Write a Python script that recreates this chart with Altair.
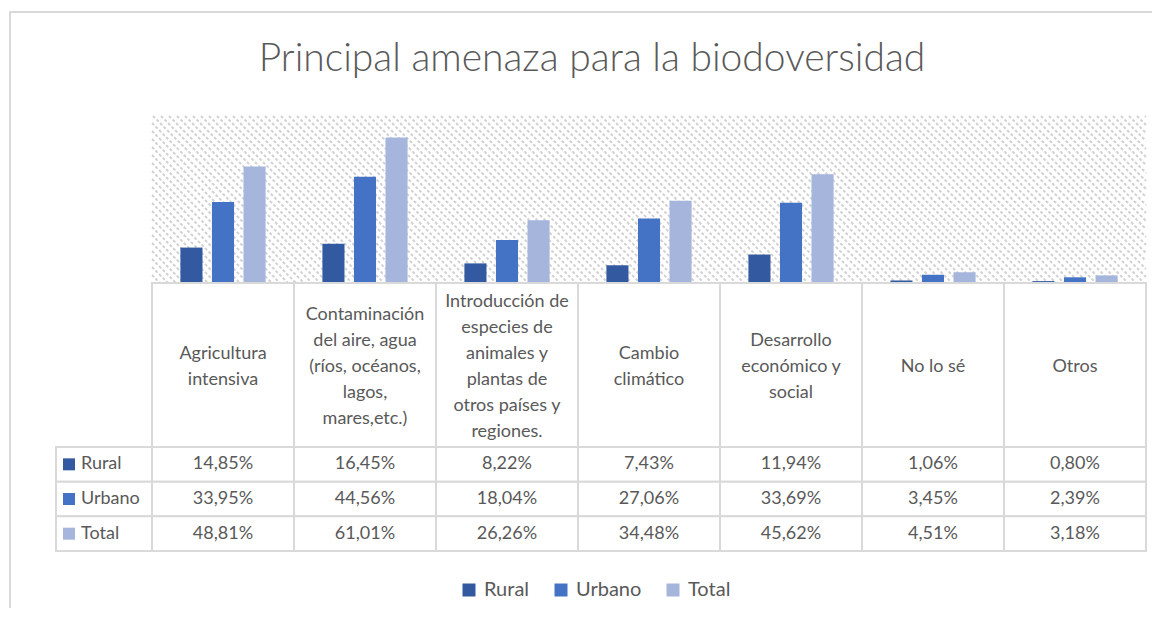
import altair as alt
import pandas as pd
import numpy as np

# ---------------- data ----------------
title_text = "Principal amenaza para la biodoversidad"
categories = [
    "Agricultura intensiva",
    "Contaminación del aire, agua (ríos, océanos, lagos, mares,etc.)",
    "Introducción de especies de animales y plantas de otros países y regiones.",
    "Cambio climático",
    "Desarrollo económico y social",
    "No lo sé",
    "Otros",
]
header_labels = [
    "Agricultura\nintensiva",
    "Contaminación\ndel aire, agua\n(ríos, océanos,\nlagos,\nmares,etc.)",
    "Introducción de\nespecies de\nanimales y\nplantas de\notros países y\nregiones.",
    "Cambio\nclimático",
    "Desarrollo\neconómico y\nsocial",
    "No lo sé",
    "Otros",
]
series = ["Rural", "Urbano", "Total"]
rural = [14.85, 16.45, 8.22, 7.43, 11.94, 1.06, 0.80]
urbano = [33.95, 44.56, 18.04, 27.06, 33.69, 3.45, 2.39]
total = [48.81, 61.01, 26.26, 34.48, 45.62, 4.51, 3.18]
colors = ["#335AA1", "#4472C4", "#A5B5DB"]

rows = []
for s, vals in zip(series, [rural, urbano, total]):
    for c, v in zip(categories, vals):
        rows.append({"cat": c, "serie": s, "value": v})
df = pd.DataFrame(rows)
df_head = pd.DataFrame({"cat": categories, "label": header_labels})
df_series = pd.DataFrame({"serie": series})

# ---------------- layout (chart pixel space) ----------------
W, H = 1144, 600
PX0, PX1 = 144, 1138      # plot area x
PY0, PY1 = 108, 275       # plot area y
TROW0, TROW1 = 439, 543   # data rows of table
LCOL0 = 48                # left column of table
GRID = "#d9d9d9"
TXT = "#595959"
FONT = "Lato"
FS = 18
LH = 26
HEAD_CENTER = 358.5

cat_scale = alt.Scale(domain=categories, range=[PX0, PX1], paddingInner=0, paddingOuter=0)
row_scale = alt.Scale(domain=series, range=[TROW0, TROW1], paddingInner=0, paddingOuter=0)
x_cat = alt.X("cat:N", sort=categories, axis=None, scale=cat_scale)
x_cat_c = alt.X("cat:N", sort=categories, axis=None, bandPosition=0.5, scale=cat_scale)
y_row = alt.Y("serie:N", sort=series, axis=None, scale=row_scale)
y_row_c = alt.Y("serie:N", sort=series, axis=None, bandPosition=0.5, scale=row_scale)

legend = alt.Legend(orient="none", legendX=451, legendY=572, direction="horizontal",
                    title=None, symbolType="square", symbolSize=169, symbolStrokeWidth=0,
                    labelFontSize=20, labelFont=FONT, labelColor=TXT, labelOffset=5,
                    columnPadding=21, symbolOpacity=1)
color = alt.Color("serie:N", sort=series,
                  scale=alt.Scale(domain=series, range=colors), legend=legend)

# background hatch (texture) of plot area
hx, hy, hx2, hy2 = [], [], [], []
for c in np.arange(PX0 - PY1, PX1 - PY0, 8):
    sx, sy = c + PY0, PY0
    if sx < PX0:
        sx, sy = PX0, PX0 - c
    ex, ey = c + PY1, PY1
    if ex > PX1:
        ex, ey = PX1, PX1 - c
    if sx <= PX1 and sy <= PY1:
        hx.append(sx); hy.append(sy); hx2.append(ex); hy2.append(ey)
df_hatch = pd.DataFrame({"x": hx, "y": hy, "x2": hx2, "y2": hy2})
px_x = alt.Scale(domain=[0, W], range=[0, W], nice=False, zero=False)
px_y = alt.Scale(domain=[0, H], range=[0, H], nice=False, zero=False)

hatch = alt.Chart(df_hatch).mark_rule(color="#d2d2d2", strokeWidth=2, strokeDash=[3, 2]).encode(
    x=alt.X("x:Q", scale=px_x, axis=None),
    y=alt.Y("y:Q", scale=px_y, axis=None),
    x2="x2:Q", y2="y2:Q",
)

# bars
bars = alt.Chart(df).mark_bar().encode(
    x=x_cat,
    xOffset=alt.XOffset("serie:N", sort=series,
                        scale=alt.Scale(domain=series, paddingInner=0.3, paddingOuter=0.9)),
    y=alt.Y("value:Q", axis=None, scale=alt.Scale(domain=[0, 70], range=[PY1, PY0], nice=False)),
    color=color,
)

# table: header cells
head_cells = alt.Chart(df_head).mark_rect(fill="white", stroke=GRID, strokeWidth=2).encode(
    x=x_cat, y=alt.value(PY1), y2=alt.value(TROW0),
)
head_text = alt.Chart(df_head).transform_calculate(
    nlines="length(split(datum.label, '\\n'))"
).mark_text(
    font=FONT, fontSize=FS, color=TXT, lineBreak="\n", lineHeight=LH,
    align="center", baseline="middle").encode(
    x=x_cat_c,
    # first line position: block of n lines centred in the header cell
    y=alt.Y("nlines:Q", axis=None,
            scale=alt.Scale(domain=[1, 6], range=[HEAD_CENTER, HEAD_CENTER - 5 * LH / 2],
                            nice=False, zero=False)),
    text="label:N",
)

# table: data cells
data_cells = alt.Chart(df).mark_rect(fill="white", stroke=GRID, strokeWidth=2).encode(
    x=x_cat, y=y_row,
)
data_text = alt.Chart(df).transform_calculate(
    txt="replace(format(datum.value, '.2f'), '.', ',') + '%'"
).mark_text(font=FONT, fontSize=FS, color=TXT, align="center", baseline="middle").encode(
    x=x_cat_c, y=y_row_c, text="txt:N",
)

# table: left column (series keys)
left_cells = alt.Chart(df_series).mark_rect(fill="white", stroke=GRID, strokeWidth=2).encode(
    x=alt.value(LCOL0), x2=alt.value(PX0), y=y_row,
)
left_keys = alt.Chart(df_series).mark_square(size=144, opacity=1).encode(
    x=alt.value(61), y=y_row_c, color=color,
)
left_text = alt.Chart(df_series).mark_text(
    font=FONT, fontSize=FS, color=TXT, align="left", baseline="middle").encode(
    x=alt.value(73), y=y_row_c, text="serie:N",
)

# outer frame and title
frame = alt.Chart(pd.DataFrame({"a": [0]})).mark_rect(
    fill="transparent", stroke=GRID, strokeWidth=2).encode(
    x=alt.value(2), x2=alt.value(W + 40), y=alt.value(4), y2=alt.value(H + 40),
)
title = alt.Chart(pd.DataFrame({"t": [title_text]})).mark_text(
    font=FONT, fontSize=39, fontWeight=300, color=TXT, align="center", baseline="middle").encode(
    x=alt.value(584), y=alt.value(51), text="t:N",
)

chart = alt.layer(
    frame, title, hatch, bars, head_cells, head_text, data_cells, data_text,
    left_cells, left_keys, left_text,
).resolve_scale(x="independent", y="independent").properties(
    width=W, height=H, autosize=alt.AutoSizeParams(type="none"), padding=0,
).configure_view(stroke=None)

chart.save("out.html", embed_options={"renderer": "svg", "actions": False})
